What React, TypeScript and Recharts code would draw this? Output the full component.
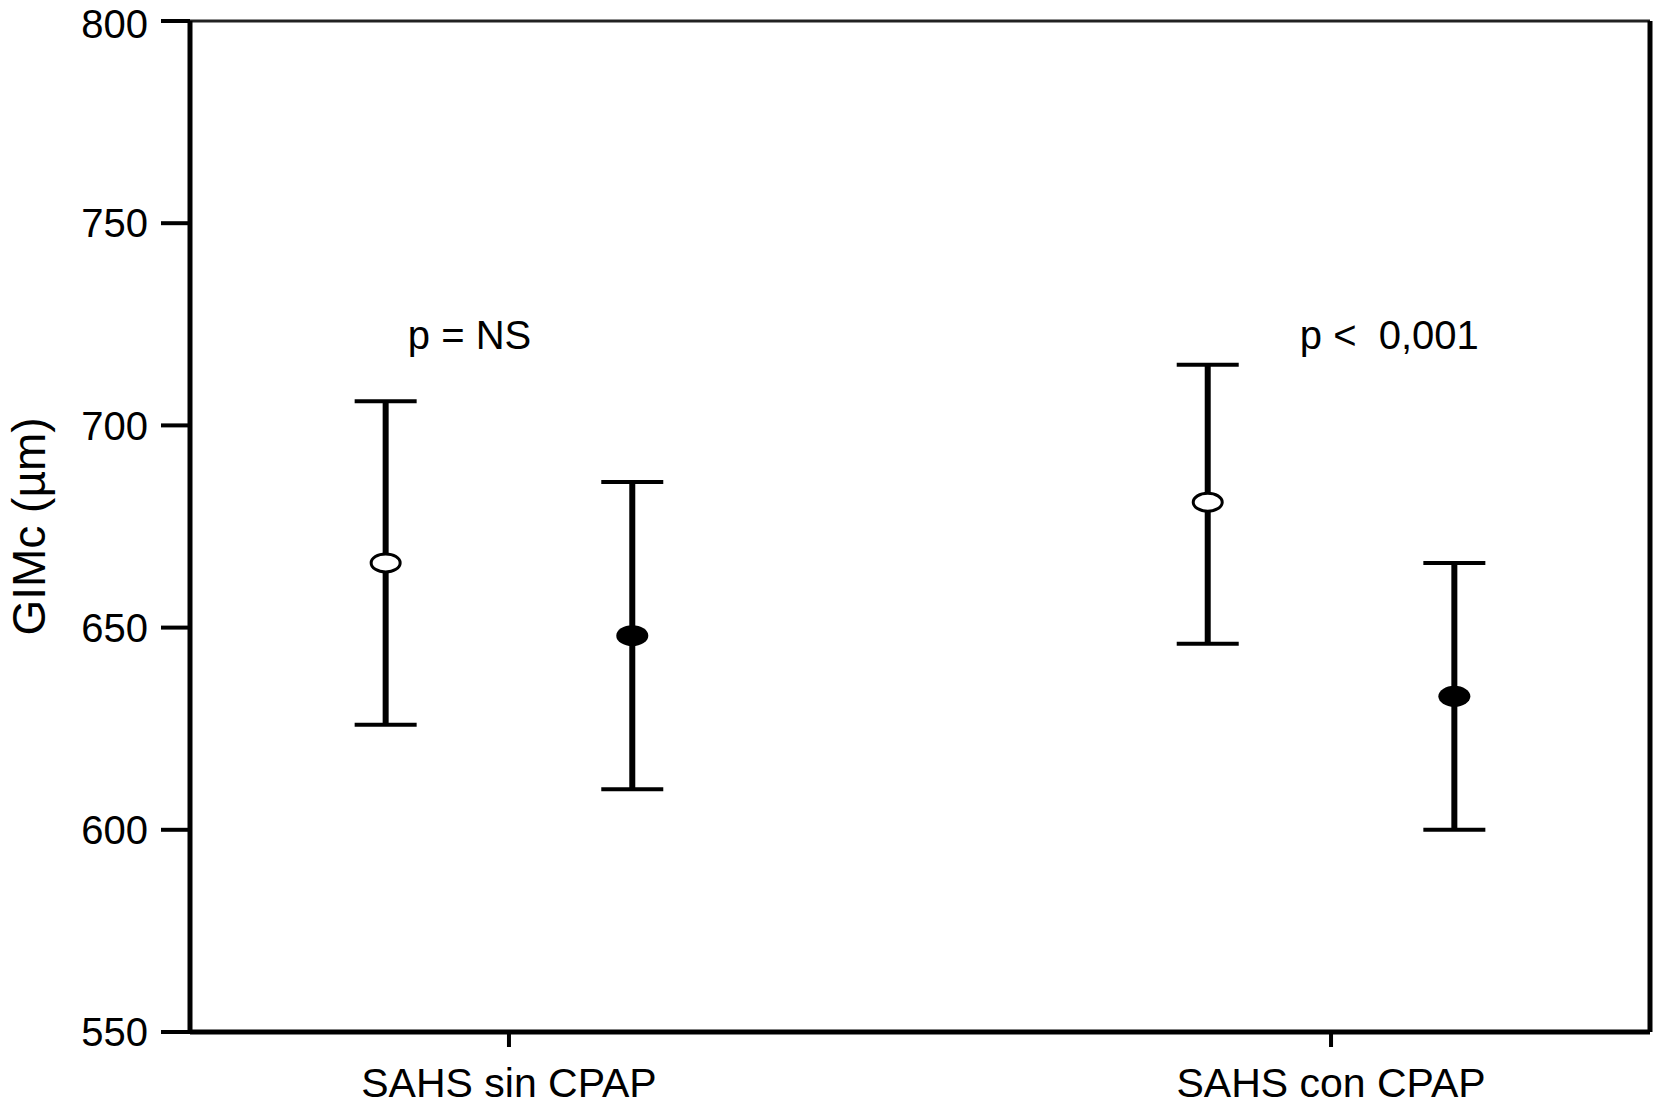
import React from "react";
import {
  ScatterChart, Scatter, XAxis, YAxis, ErrorBar, ReferenceLine, ReferenceDot, Label,
} from "recharts";

const CATEGORIES = ["SAHS sin CPAP", "SAHS con CPAP"];

// open circles
const OPEN_MEAN = [666, 681];
const OPEN_LOW = [626, 646];
const OPEN_HIGH = [706, 715];

// filled circles
const FILLED_MEAN = [648, 633];
const FILLED_LOW = [610, 600];
const FILLED_HIGH = [686, 666];

const Y_TICKS = [550, 600, 650, 700, 750, 800];
const P_LABELS = ["p = NS", "p <  0,001"];

const FONT = "'Liberation Sans', Arial, Helvetica, sans-serif";
const OFFSET = 0.15;
const X_DOMAIN: [number, number] = [0.612, 2.388];
const P_X = [0.877, 1.962];
const P_Y = 719;

const openData = CATEGORIES.map((_, i) => ({
  x: i + 1 - OFFSET,
  y: OPEN_MEAN[i],
  err: [OPEN_MEAN[i] - OPEN_LOW[i], OPEN_HIGH[i] - OPEN_MEAN[i]],
}));
const filledData = CATEGORIES.map((_, i) => ({
  x: i + 1 + OFFSET,
  y: FILLED_MEAN[i],
  err: [FILLED_MEAN[i] - FILLED_LOW[i], FILLED_HIGH[i] - FILLED_MEAN[i]],
}));
const allData = [...openData, ...filledData];

// eslint-disable-next-line @typescript-eslint/no-explicit-any
const OpenDot = (p: any) => (
  <ellipse cx={p.cx} cy={p.cy} rx={14.5} ry={9} fill="#fff" stroke="#000" strokeWidth={3} />
);
// eslint-disable-next-line @typescript-eslint/no-explicit-any
const FilledDot = (p: any) => (
  <ellipse cx={p.cx} cy={p.cy} rx={16} ry={10.5} fill="#000" />
);
const NoDot = () => <g />;

// eslint-disable-next-line @typescript-eslint/no-explicit-any
const pLabel = (text: string) => (p: any) => (
  <text
    x={p.viewBox.x + 1}
    y={p.viewBox.y + 1}
    fontFamily={FONT}
    fontSize={40}
    fill="#000"
    style={{ whiteSpace: "pre" }}
  >
    {text}
  </text>
);

// eslint-disable-next-line @typescript-eslint/no-explicit-any
const YTitle = (p: any) => {
  const x = p.viewBox.x + 45;
  const y = p.viewBox.y + p.viewBox.height / 2;
  return (
    <text
      x={x}
      y={y}
      transform={`rotate(-90, ${x}, ${y})`}
      textAnchor="middle"
      fontFamily={FONT}
      fontSize={46}
      fill="#000"
    >
      GIMc (µm)
    </text>
  );
};

export default function App() {
  return (
    <div style={{ position: "absolute", top: 0, left: 0, background: "#fff" }}>
      <ScatterChart width={1654} height={1106} margin={{ top: 21, right: 4, bottom: 0, left: 0 }}>
        <XAxis
          type="number"
          dataKey="x"
          domain={X_DOMAIN}
          ticks={[1, 2]}
          tickFormatter={(v) => CATEGORIES[v - 1]}
          height={74}
          tickSize={15}
          tickMargin={21}
          axisLine={{ stroke: "#000", strokeWidth: 5 }}
          tickLine={{ stroke: "#000", strokeWidth: 4 }}
          tick={{ fill: "#000", fontSize: 41, fontFamily: FONT }}
          allowDataOverflow
        />
        <YAxis
          type="number"
          dataKey="y"
          domain={[550, 800]}
          ticks={Y_TICKS}
          width={190}
          tickSize={29}
          tickMargin={13}
          axisLine={{ stroke: "#000", strokeWidth: 5 }}
          tickLine={{ stroke: "#000", strokeWidth: 4 }}
          tick={{ fill: "#000", fontSize: 40, fontFamily: FONT }}
          allowDataOverflow
        >
          <Label content={YTitle} />
        </YAxis>
        <ReferenceLine y={800} stroke="#222" strokeWidth={3} />
        <ReferenceLine x={X_DOMAIN[1]} stroke="#000" strokeWidth={5} />
        {/* caps */}
        <Scatter data={allData} shape={NoDot} isAnimationActive={false}>
          <ErrorBar dataKey="err" direction="y" width={31} stroke="#000" strokeWidth={4} isAnimationActive={false} />
        </Scatter>
        {/* thicker stems */}
        <Scatter data={allData} shape={NoDot} isAnimationActive={false}>
          <ErrorBar dataKey="err" direction="y" width={0} stroke="#000" strokeWidth={6} isAnimationActive={false} />
        </Scatter>
        <Scatter data={openData} shape={OpenDot} isAnimationActive={false} />
        <Scatter data={filledData} shape={FilledDot} isAnimationActive={false} />
        {P_LABELS.map((t, i) => (
          <ReferenceDot key={t} x={P_X[i]} y={P_Y} r={1} fill="none" stroke="none" label={{ content: pLabel(t) }} />
        ))}
      </ScatterChart>
    </div>
  );
}
